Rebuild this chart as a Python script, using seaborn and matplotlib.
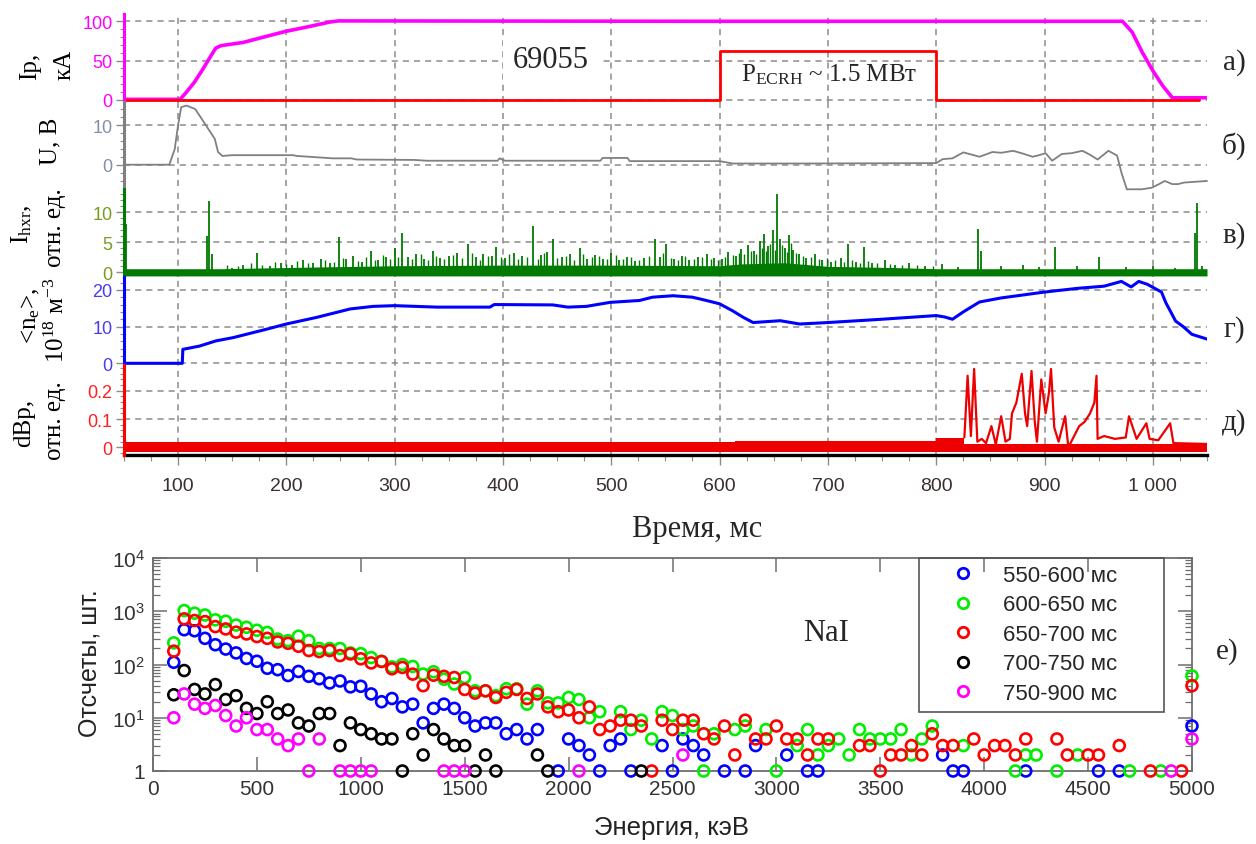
import numpy as np
import pandas as pd
import matplotlib
matplotlib.use("Agg")
import matplotlib.pyplot as plt
import seaborn as sns
from matplotlib.ticker import AutoMinorLocator, FixedLocator, LogLocator, NullFormatter, NullLocator
from matplotlib.lines import Line2D
from matplotlib.patches import Rectangle

# ---------------- data: time traces (ms) ----------------
ip_t = [50, 102, 108, 115, 123, 130, 135, 140, 160, 199, 220, 240, 248, 600, 972, 981, 990, 1000, 1009, 1018, 1050]
ip_v = [0.5, 0.5, 10, 22, 39, 55, 66, 69, 73, 87, 93, 99, 100.5, 100, 100, 86, 61, 37, 18, 2.5, 2.5]

ecrh_t = [50, 600, 600, 800, 800, 1043]
ecrh_v = [0, 0, 62, 62, 0, 0]

u_t = [50, 92, 97, 100, 103, 108, 116, 123, 129, 134, 137, 141, 150, 206, 210, 243, 260, 265, 318, 330,
       395, 397, 402, 490, 492, 515, 517, 600, 612, 680, 800, 806, 815, 825, 832, 840, 852, 860, 871, 880,
       889, 895, 901, 907, 916, 925, 935, 942, 949, 959, 967, 971, 976, 990, 999, 1005, 1011, 1018, 1023, 1029,
       1050]
u_v = [0, 0, 3.9, 9.8, 14.5, 14.9, 14, 11.1, 8.6, 6.5, 3.2, 2.2, 2.4, 2.4, 2.2, 1.6, 1.6, 1.3, 1.2, 1.0,
       1.0, 1.6, 1.0, 1.0, 1.7, 1.7, 0.9, 0.9, 0.3, 0.3, 0.4, 1.4, 1.6, 3.1, 2.6, 2.0, 3.2, 3.0, 3.5, 2.8,
       2.0, 2.4, 2.9, 1.0, 2.7, 2.9, 3.5, 2.5, 1.3, 3.5, 2.3, -2.0, -6.2, -6.2, -5.8, -5.0, -4.1, -4.9, -4.9, -4.5,
       -4.1]

hxr_t = [50, 52, 127, 129, 131, 150, 160, 173, 185, 195,
         205, 215, 225, 232, 240, 249, 255, 262, 270, 278,
         285, 292, 300, 307, 312, 320, 327, 335, 342, 350,
         358, 368, 375, 382, 390, 394, 402, 410, 418, 428,
         435, 441, 446, 455, 462, 471, 478, 485, 492, 500,
         507, 515, 522, 530, 540, 545, 551, 558, 565, 572,
         580, 588, 595, 602, 608, 615, 620, 626, 632, 637,
         641, 645, 649, 653, 656, 660, 664, 668, 673, 680,
         688, 695, 703, 712, 719, 726, 733, 741, 753, 762,
         775, 790, 805, 820, 839, 841, 860, 880, 895, 910,
         930, 950, 975, 1000, 1020, 1039, 1041, 1045]
hxr_h = [13, 8, 6, 11.9, 3, 0.8, 1.2, 3.3, 1.1, 1.5,
         1.2, 2.0, 1.5, 2.3, 1.6, 5.9, 2.2, 2.8, 1.8, 3.5,
         2.0, 2.5, 4.0, 6.6, 2.6, 3.0, 2.2, 3.6, 2.4, 2.8,
         3.2, 4.7, 2.5, 3.1, 2.7, 4.3, 2.4, 3.2, 2.8, 7.8,
         2.9, 3.4, 5.5, 2.6, 3.0, 4.0, 2.3, 2.9, 2.2, 3.3,
         2.1, 2.6, 1.9, 2.4, 5.6, 2.6, 4.8, 2.2, 2.8, 2.0,
         2.5, 3.1, 2.4, 2.2, 3.4, 2.8, 3.9, 4.6, 3.6, 5.2,
         6.4, 4.4, 7.0, 13.1, 5.5, 4.0, 6.2, 3.7, 3.0, 2.4,
         3.1, 2.0, 1.8, 2.4, 4.7, 1.7, 4.3, 1.5, 2.0, 1.2,
         1.6, 1.0, 1.4, 0.9, 7.3, 3.5, 1.0, 1.2, 0.9, 4.2,
         1.1, 2.5, 0.9, 1.0, 0.8, 6.5, 11.5, 1.0]
hxr_grass_t = [145, 155, 167, 178, 190, 200, 210, 220, 236, 244,
               252, 266, 274, 282, 289, 296, 303, 316, 324, 331,
               338, 346, 354, 362, 371, 379, 386, 398, 406, 414,
               422, 432, 438, 450, 458, 466, 474, 482, 489, 496,
               504, 511, 518, 526, 535, 548, 555, 562, 568, 576,
               584, 592, 599, 605, 612, 618, 623, 629, 634, 639,
               643, 647, 651, 658, 662, 666, 671, 677, 684, 692,
               699, 707, 715, 722, 730, 737, 745, 757, 768, 782,
               797]
hxr_grass_h = [1.3, 1.1, 1.6, 1.2, 1.8, 1.4, 1.9, 1.5, 2.1, 1.7,
               2.4, 1.9, 2.6, 2.0, 2.9, 2.2, 2.5, 2.3, 3.1, 2.0,
               2.7, 2.2, 2.9, 2.4, 3.3, 2.1, 2.8, 2.5, 3.0, 2.3,
               2.6, 2.2, 3.2, 2.4, 2.8, 2.1, 3.0, 2.5, 2.7, 2.2,
               2.9, 2.3, 2.6, 2.0, 2.8, 3.2, 2.4, 2.1, 2.7, 2.3,
               2.6, 2.2, 2.0, 2.5, 2.9, 3.3, 3.0, 3.6, 3.1, 4.1,
               3.5, 4.8, 3.8, 4.5, 3.4, 4.9, 3.2, 2.8, 2.5, 2.2,
               2.4, 2.0, 1.8, 2.1, 1.6, 1.9, 1.5, 1.4, 1.3, 1.2,
               1.1]
hxr_env_t = [50, 140, 200, 300, 400, 500, 600, 620, 660, 700, 760, 800, 1050]
hxr_env_v = [0.6, 0.6, 0.8, 1.1, 1.2, 1.2, 1.1, 1.4, 1.6, 1.0, 0.8, 0.6, 0.6]

ne_t = [50, 104, 104.5, 120, 135, 151, 182, 200, 228, 259, 280, 300, 339, 388, 392, 446, 460, 477, 499, 526,
        538, 557, 575, 588, 600, 612, 622, 631, 656, 674, 700, 750, 800, 808, 815, 825, 840, 860, 900, 930,
        955, 971, 980, 987, 995, 1008, 1012, 1016, 1021, 1028, 1036, 1050]
ne_v = [0, 0, 3.8, 4.7, 6.1, 7.0, 9.3, 10.7, 12.5, 14.8, 15.5, 15.7, 15.3, 15.3, 16.0, 15.9, 15.3, 15.5, 16.6, 17.1,
        18.0, 18.4, 18.0, 17.1, 16.2, 14.3, 12.5, 11.1, 11.6, 10.7, 11.1, 12.0, 13.0, 12.6, 12.0, 14.0, 16.7, 17.8, 19.4, 20.4,
        21.0, 22.3, 20.8, 22.3, 21.5, 19.4, 16.5, 14.3, 11.5, 10.0, 7.9, 6.6]

dbp_base_t = [50, 614, 614, 800, 800, 826, 826, 1050]
dbp_base_v = [0.018, 0.018, 0.022, 0.022, 0.032, 0.032, 0.012, 0.012]
dbp_t = [826, 829, 832, 835, 838, 842, 846, 851, 855, 860,
         864, 868, 870, 874, 879, 882, 884, 888, 891, 893,
         897, 901, 904, 906, 909, 913, 919, 922, 926, 932,
         937, 942, 946, 948, 949, 955, 965, 975, 978, 985,
         994, 997, 1005, 1016, 1019, 1050]
dbp_v = [0.035, 0.253, 0.04, 0.277, 0.02, 0.03, 0.015, 0.075, 0.01, 0.11,
         0.02, 0.03, 0.12, 0.158, 0.26, 0.12, 0.075, 0.27, 0.09, 0.02,
         0.24, 0.12, 0.19, 0.277, 0.07, 0.02, 0.11, 0.0, 0.03, 0.075,
         0.09, 0.12, 0.158, 0.253, 0.03, 0.04, 0.03, 0.035, 0.11, 0.03,
         0.085, 0.03, 0.025, 0.085, 0.015, 0.012]

time_ticks = [100, 200, 300, 400, 500, 600, 700, 800, 900, 1000]
time_tick_labels = ["100", "200", "300", "400", "500", "600", "700", "800", "900", "1 000"]

# ---------------- data: NaI spectra ----------------
win_labels = ["550-600 мс", "600-650 мс", "650-700 мс", "700-750 мс", "750-900 мс"]
win_colors = ["#0000ff", "#00ee00", "#ff0000", "#000000", "#ff00ff"]

blue_E = [100, 150, 200, 250, 300, 350, 400, 450, 500, 550,
          600, 650, 700, 750, 800, 850, 900, 950, 1000, 1050,
          1100, 1150, 1200, 1250, 1300, 1350, 1400, 1450, 1500, 1550,
          1600, 1650, 1700, 1750, 1800, 1850, 1950, 2000, 2050, 2100,
          2150, 2200, 2250, 2300, 2450, 2500, 2550, 2600, 2650, 2750,
          2850, 2900, 3050, 3150, 3200, 3800, 3850, 3900, 4200, 4550,
          4650, 5000]
blue_C = [110, 450, 430, 310, 235, 195, 165, 130, 115, 85,
          80, 62, 74, 60, 54, 45, 49, 38, 39, 28,
          20, 23, 16, 18, 8, 15, 18, 15, 10, 7,
          8, 8, 5, 6, 4, 6, 1, 4, 3, 2,
          1, 3, 4, 1, 3, 1, 4, 3, 2, 1,
          1, 3, 2, 1, 1, 2, 1, 1, 1, 1,
          1, 7]
green_E = [100, 150, 200, 250, 300, 350, 400, 450, 500, 550,
           600, 650, 700, 750, 800, 850, 900, 950, 1000, 1050,
           1100, 1150, 1200, 1250, 1300, 1350, 1400, 1450, 1500, 1550,
           1600, 1650, 1700, 1750, 1800, 1850, 1900, 1950, 2000, 2050,
           2100, 2150, 2250, 2300, 2350, 2400, 2450, 2500, 2550, 2600,
           2650, 2700, 2800, 2850, 2950, 3000, 3100, 3150, 3200, 3250,
           3300, 3350, 3400, 3450, 3500, 3550, 3600, 3650, 3700, 3750,
           3900, 4150, 4200, 4250, 4350, 4450, 4700, 4850, 5000]
green_C = [255, 1030, 920, 850, 690, 650, 550, 500, 440, 400,
           300, 280, 340, 280, 200, 200, 200, 165, 160, 135,
           115, 90, 100, 92, 66, 73, 53, 43, 57, 32,
           32, 26, 35, 35, 18, 32, 19, 19, 24, 22,
           10, 13, 13, 6, 9, 4, 13, 11, 6, 7,
           1, 5, 6, 7, 6, 1, 3, 6, 2, 3,
           4, 2, 6, 4, 4, 4, 6, 2, 4, 7,
           3, 1, 2, 2, 1, 2, 1, 1, 61]
red_E = [100, 150, 200, 250, 300, 350, 400, 450, 500, 550,
         600, 650, 700, 750, 800, 850, 900, 950, 1000, 1050,
         1100, 1150, 1200, 1250, 1300, 1350, 1400, 1450, 1500, 1550,
         1600, 1650, 1700, 1750, 1800, 1850, 1900, 1950, 2000, 2050,
         2100, 2150, 2200, 2250, 2300, 2350, 2400, 2450, 2500, 2550,
         2600, 2650, 2700, 2750, 2800, 2850, 2900, 2950, 3000, 3050,
         3100, 3150, 3200, 3250, 3400, 3450, 3500, 3550, 3600, 3650,
         3700, 3750, 3800, 3850, 3950, 4000, 4050, 4100, 4150, 4200,
         4350, 4400, 4500, 4550, 4650, 4800, 4950, 5000]
red_C = [178, 720, 670, 640, 515, 465, 405, 375, 335, 310,
         265, 250, 220, 183, 175, 183, 147, 158, 128, 107,
         114, 83, 88, 66, 40, 63, 60, 57, 34, 29,
         32, 24, 30, 34, 23, 28, 16, 13, 14, 10,
         16, 6, 7, 9, 9, 7, 1, 9, 6, 9,
         9, 5, 4, 7, 2, 9, 4, 4, 7, 4,
         4, 2, 4, 4, 3, 3, 1, 2, 2, 3,
         2, 5, 3, 3, 4, 2, 3, 3, 2, 4,
         4, 2, 2, 2, 3, 1, 1, 40]
black_E = [100, 150, 200, 250, 300, 350, 400, 450, 500, 550,
           600, 650, 700, 750, 800, 850, 900, 950, 1000, 1050,
           1100, 1150, 1200, 1250, 1300, 1350, 1400, 1450, 1500, 1550,
           1600, 1650, 1850, 1900, 2350]
black_C = [27, 77, 34, 28, 42, 22, 26, 15, 12, 20,
           12, 14, 8, 7, 12, 12, 3, 8, 6, 5,
           4, 4, 1, 5, 2, 6, 4, 3, 3, 1,
           2, 1, 2, 1, 1]
mag_E = [100, 150, 200, 250, 300, 350, 400, 450, 500, 550,
         600, 650, 700, 750, 800, 900, 950, 1000, 1050, 1400,
         1450, 1500, 2050, 2550, 4900, 5000]
mag_C = [10, 28, 18, 15, 17, 11, 7, 10, 6, 6,
         4, 3, 4, 1, 4, 1, 1, 1, 1, 1,
         1, 1, 1, 2, 1, 4]

energy_ticks = [0, 500, 1000, 1500, 2000, 2500, 3000, 3500, 4000, 4500, 5000]
count_ticks = [1, 10, 100, 1000, 10000]
count_tick_labels = ["1", r"$\mathsf{10^{1}}$", r"$\mathsf{10^{2}}$", r"$\mathsf{10^{3}}$", r"$\mathsf{10^{4}}$"]

# ---------------- style ----------------
sns.set_theme(style="white")
plt.rcParams["font.family"] = ["Liberation Sans", "DejaVu Sans"]
plt.rcParams["mathtext.fontset"] = "custom"
plt.rcParams["mathtext.rm"] = "Liberation Serif"
plt.rcParams["mathtext.it"] = "Liberation Serif:italic"
plt.rcParams["mathtext.sf"] = "Liberation Sans"
plt.rcParams["axes.unicode_minus"] = False
SERIF = ["Liberation Serif", "DejaVu Serif"]

W, H = 1256, 845
fig = plt.figure(figsize=(W / 100, H / 100), dpi=100)


def rect(x0, y0, x1, y1):
    return [x0 / W, 1 - y1 / H, (x1 - x0) / W, (y1 - y0) / H]


def ftext(x, y, s, **kw):
    return fig.text(x / W, 1 - y / H, s, **kw)


GRID = dict(color="#8c8c8c", linestyle=(0, (4, 3.3)), linewidth=1.1)
X0, X1 = 123.8, 1207.0

panel_specs = [
    # y_top, y_bottom, ylim, ticks, tick labels, spine color, label color
    (15, 103, (-2.9, 109.3), [0, 50, 100], ["0", "50", "100"], "#ff00ff", "#ff00ff"),
    (103, 187, (-5.37, 15.8), [0, 10], ["0", "10"], "#808080", "#8490a8"),
    (190, 278, (-0.78, 13.9), [0, 5, 10], ["0", "5", "10"], "#007a00", "#7a9a22"),
    (278, 366, (-0.46, 23.5), [0, 10, 20], ["0", "10", "20"], "#0000ff", "#4a3cf0"),
    (366, 456, (-0.027, 0.291), [0, 0.1, 0.2], ["0", "0.1", "0.2"], "#ff0000", "#ff2020"),
]

axes = []
for i, (yt, yb, yl, tk, tkl, sc, lc) in enumerate(panel_specs):
    ax = fig.add_axes(rect(X0, yt, X1, yb))
    ax.set_xlim(50, 1050)
    ax.set_ylim(*yl)
    ax.patch.set_alpha(0)
    for s in ["top", "right", "bottom"]:
        ax.spines[s].set_visible(False)
    ax.spines["left"].set_color(sc)
    ax.spines["left"].set_linewidth(2.2)
    ax.spines["left"].set_zorder(4)
    ax.yaxis.set_major_locator(FixedLocator(tk))
    ax.set_yticklabels(tkl)
    ax.yaxis.set_minor_locator(AutoMinorLocator(5))
    ax.tick_params(axis="y", which="major", left=True, direction="out", length=6, width=1,
                   color="#8c8c8c", labelcolor=lc, labelsize=13, pad=2)
    ax.tick_params(axis="y", which="minor", left=True, direction="out", length=3, width=0.8, color="#8c8c8c")
    ax.xaxis.set_major_locator(FixedLocator(time_ticks))
    ax.grid(True, which="major", axis="both", **GRID)
    ax.set_axisbelow(True)
    if i < 4:
        ax.tick_params(axis="x", which="both", bottom=False, labelbottom=False)
    axes.append(ax)

ax_a, ax_b, ax_c, ax_d, ax_e = axes

# а) plasma current + ECRH
sns.lineplot(x=ip_t, y=ip_v, ax=ax_a, color="#ff00ff", linewidth=2.6, estimator=None, sort=False)
sns.lineplot(x=ecrh_t, y=ecrh_v, ax=ax_a, color="#ff0000", linewidth=2.0, estimator=None, sort=False)
ftext(551, 60, "69055", family=SERIF, fontsize=22, ha="center", va="center",
      bbox=dict(facecolor="white", edgecolor="none", pad=7))
ftext(829, 75, r"P$_{\mathrm{ECRH}}$ ~ 1.5 МВт", family=SERIF, fontsize=18, ha="center", va="center")

# б) loop voltage
sns.lineplot(x=u_t, y=u_v, ax=ax_b, color="#808080", linewidth=1.3, estimator=None, sort=False, clip_on=False)

# в) hard x-ray
ax_c.fill_between(hxr_env_t, -0.6, hxr_env_v, color="#007a00", linewidth=0)
ax_c.vlines(hxr_grass_t, 0, hxr_grass_h, color="#007a00", linewidth=1.0)
ax_c.vlines(hxr_t, 0, hxr_h, color="#007a00", linewidth=1.3)

# г) density
sns.lineplot(x=ne_t, y=ne_v, ax=ax_d, color="#0000ff", linewidth=2.2, estimator=None, sort=False)

# д) dBp
ax_e.fill_between(dbp_base_t, -0.017, dbp_base_v, color="#ee0000", linewidth=0)
sns.lineplot(x=dbp_t, y=dbp_v, ax=ax_e, color="#ee0000", linewidth=1.6, estimator=None, sort=False)
ax_e.spines["bottom"].set_visible(True)
ax_e.spines["bottom"].set_color("black")
ax_e.spines["bottom"].set_linewidth(2.4)
ax_e.set_xticks(time_ticks)
ax_e.set_xticklabels(time_tick_labels)
ax_e.xaxis.set_minor_locator(AutoMinorLocator(4))
ax_e.tick_params(axis="x", which="major", bottom=True, direction="out", length=7, width=1,
                 color="#8c8c8c", labelsize=14, labelcolor="#3a3030", pad=9)
ax_e.tick_params(axis="x", which="minor", bottom=True, direction="out", length=4, width=0.8, color="#8c8c8c")

# y labels of the top block
ylab = [("Ip,", 30, 66), ("кА", 65, 65), ("U, B", 50, 141),
        (r"I$_{\mathrm{hxr}}$,", 22, 224), ("отн. ед.", 55, 228),
        (r"<n$_{\mathrm{e}}$>,", 31, 316), (r"10$^{18}$ м$^{-3}$", 57, 320),
        ("dBp,", 24, 423), ("отн. ед.", 55, 421)]
for s, x, y in ylab:
    ftext(x, y, s, family=SERIF, fontsize=18, rotation=90, ha="center", va="center", color="black")

for s, y in [("а)", 63), ("б)", 146), ("в)", 236), ("г)", 330), ("д)", 423)]:
    ftext(1234, y, s, family=SERIF, fontsize=21, ha="center", va="center")
ftext(697, 530, "Время, мс", family=SERIF, fontsize=22, ha="center", va="center")

# ---------------- е) NaI spectra ----------------
axs = fig.add_axes(rect(153, 559, 1192, 772))
rows = []
for lab, E, C in zip(win_labels, [blue_E, green_E, red_E, black_E, mag_E],
                     [blue_C, green_C, red_C, black_C, mag_C]):
    for e, c in zip(E, C):
        rows.append((e, c, lab))
df = pd.DataFrame(rows, columns=["E", "N", "win"])
axs.set_yscale("log")
sns.scatterplot(data=df, x="E", y="N", hue="win", palette=dict(zip(win_labels, win_colors)),
                ax=axs, s=62, legend=False, clip_on=False, zorder=3, linewidth=1.9)
pc = axs.collections[-1]
pc.set_edgecolors(pc.get_facecolors())
pc.set_facecolors("none")

axs.set_xlim(0, 5000)
axs.set_ylim(1, 1e4)
axs.set_xlabel("")
axs.set_ylabel("")
for s in axs.spines.values():
    s.set_visible(True)
    s.set_color("#6e6e6e")
    s.set_linewidth(1.3)
axs.xaxis.set_major_locator(FixedLocator(energy_ticks))
axs.xaxis.set_minor_locator(NullLocator())
axs.yaxis.set_major_locator(FixedLocator(count_ticks))
axs.set_yticklabels(count_tick_labels)
axs.yaxis.set_minor_locator(LogLocator(base=10, subs=[2, 3, 4, 5, 6, 7, 8, 9]))
axs.yaxis.set_minor_formatter(NullFormatter())
axs.tick_params(which="both", direction="in", top=True, right=True, bottom=True, left=True, color="#6e6e6e")
axs.tick_params(which="major", length=10, width=1.1, labelsize=15, labelcolor="#333333", pad=6)
axs.tick_params(which="minor", length=5, width=0.9)
axs.grid(False)

handles = [Line2D([], [], marker="o", linestyle="none", markerfacecolor="none", markeredgecolor=c,
                  markeredgewidth=2.0, markersize=7.5) for c in win_colors]
axs.legend(handles, win_labels, loc="upper left", bbox_to_anchor=(952 / W, 1 - 566 / H),
           bbox_transform=fig.transFigure, frameon=False, fontsize=16, handlelength=1.0,
           handletextpad=1.3, labelspacing=0.38, borderpad=0, borderaxespad=0)
fig.add_artist(Rectangle((919 / W, 1 - 713 / H), 245 / W, 154 / H, transform=fig.transFigure,
                         fill=False, edgecolor="#555555", linewidth=1.2, zorder=5))

ftext(826, 634, "NaI", family=SERIF, fontsize=22, ha="center", va="center")
ftext(1227, 652, "е)", family=SERIF, fontsize=21, ha="center", va="center")
ftext(672, 828, "Энергия, кэВ", fontsize=18.5, ha="center", va="center", color="#222222")
ftext(89, 663, "Отсчеты, шт.", fontsize=18, rotation=90, ha="center", va="center", color="#222222")

fig.savefig("out.png", dpi=100)
